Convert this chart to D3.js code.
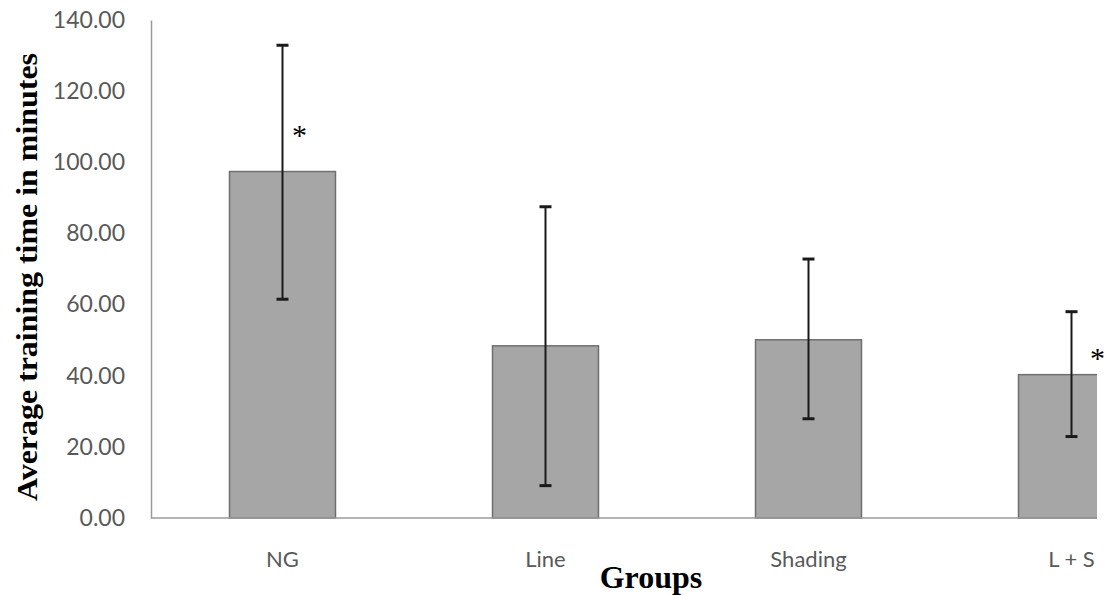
<!DOCTYPE html>
<html>
<head>
<meta charset="utf-8">
<script src="https://cdn.jsdelivr.net/npm/d3@7"></script>
<style>
  body { margin: 0; background: #fff; }
  svg { display: block; }
</style>
</head>
<body>
<svg id="chart" width="1106" height="595"></svg>
<script>
// data
const groups = ["NG", "Line", "Shading", "L + S"];
const means = [97.4, 48.4, 50.1, 40.3];
const errLow = [61.5, 9.1, 27.9, 22.9];
const errHigh = [132.9, 87.5, 72.8, 58.0];
const starGroups = ["NG", "L + S"];
const starLevels = [108.9, 46.4];
const yTicks = [0, 20, 40, 60, 80, 100, 120, 140];

const width = 1106, height = 595;
const plotLeft = 151, plotTop = 20, plotBottom = 518;
const clipRight = 1097;
const step = 263;

const svg = d3.select("#chart");

const x = d3.scaleBand()
  .domain(groups)
  .range([plotLeft, plotLeft + step * groups.length])
  .paddingInner(0.597)
  .paddingOuter(0.2985);

const y = d3.scaleLinear()
  .domain([0, 140])
  .range([plotBottom, plotTop]);

svg.append("clipPath").attr("id", "plotClip")
  .append("rect")
  .attr("x", 0).attr("y", 0)
  .attr("width", clipRight).attr("height", height);

const plot = svg.append("g").attr("clip-path", "url(#plotClip)");

// bars
plot.selectAll("rect.bar")
  .data(groups)
  .join("rect")
  .attr("class", "bar")
  .attr("x", d => x(d))
  .attr("y", (d, i) => y(means[i]))
  .attr("width", x.bandwidth())
  .attr("height", (d, i) => y(0) - y(means[i]))
  .attr("fill", "#a6a6a6")
  .attr("stroke", "#6f6f6f")
  .attr("stroke-width", 1.5);

// axes (lines only, no tick marks)
const yAxis = svg.append("g")
  .attr("transform", `translate(${plotLeft},0)`)
  .call(d3.axisLeft(y).tickValues(yTicks).tickSize(0).tickPadding(26).tickFormat(d3.format(".2f")));
yAxis.select(".domain").attr("stroke", "#9a9a9a").attr("stroke-width", 1.5);
yAxis.selectAll("text")
  .attr("fill", "#595959")
  .style("font-family", "Lato, 'Open Sans', sans-serif")
  .style("font-size", "23px");

const xAxis = plot.append("g")
  .attr("transform", `translate(0,${plotBottom})`)
  .call(d3.axisBottom(x).tickSize(0).tickPadding(33));
xAxis.select(".domain").attr("stroke", "#9a9a9a").attr("stroke-width", 1.5)
  .attr("d", `M${plotLeft},0H${clipRight}`);
xAxis.selectAll("text")
  .attr("fill", "#595959")
  .style("font-family", "Lato, 'Open Sans', sans-serif")
  .style("font-size", "22px");

// error bars
const cap = 6;
const errs = plot.append("g").attr("stroke", "#1a1a1a").attr("stroke-width", 2);
groups.forEach((g, i) => {
  const cx = x(g) + x.bandwidth() / 2;
  errs.append("line")
    .attr("x1", cx).attr("x2", cx)
    .attr("y1", y(errHigh[i])).attr("y2", y(errLow[i]));
  [errHigh[i], errLow[i]].forEach(v => {
    errs.append("line")
      .attr("x1", cx - cap).attr("x2", cx + cap)
      .attr("y1", y(v)).attr("y2", y(v))
      .attr("stroke-width", 3);
  });
});

// significance asterisks
const starDx = [17, 26];
svg.selectAll("text.star")
  .data(starGroups)
  .join("text")
  .attr("class", "star")
  .attr("x", (d, i) => x(d) + x.bandwidth() / 2 + starDx[i])
  .attr("y", (d, i) => y(starLevels[i]))
  .attr("dy", "0.49em")
  .attr("text-anchor", "middle")
  .style("font-family", "'Liberation Serif', serif")
  .style("font-size", "30px")
  .attr("fill", "#000")
  .text("*");

// axis titles
svg.append("text")
  .attr("transform", `translate(37,277) rotate(-90)`)
  .attr("text-anchor", "middle")
  .attr("textLength", 448)
  .attr("lengthAdjust", "spacingAndGlyphs")
  .style("font-family", "'Liberation Serif', serif")
  .style("font-weight", "bold")
  .style("font-size", "30px")
  .text("Average training time in minutes");

svg.append("text")
  .attr("x", 651)
  .attr("y", 588)
  .attr("text-anchor", "middle")
  .style("font-family", "'Liberation Serif', serif")
  .style("font-weight", "bold")
  .style("font-size", "32px")
  .text("Groups");
</script>
</body>
</html>
